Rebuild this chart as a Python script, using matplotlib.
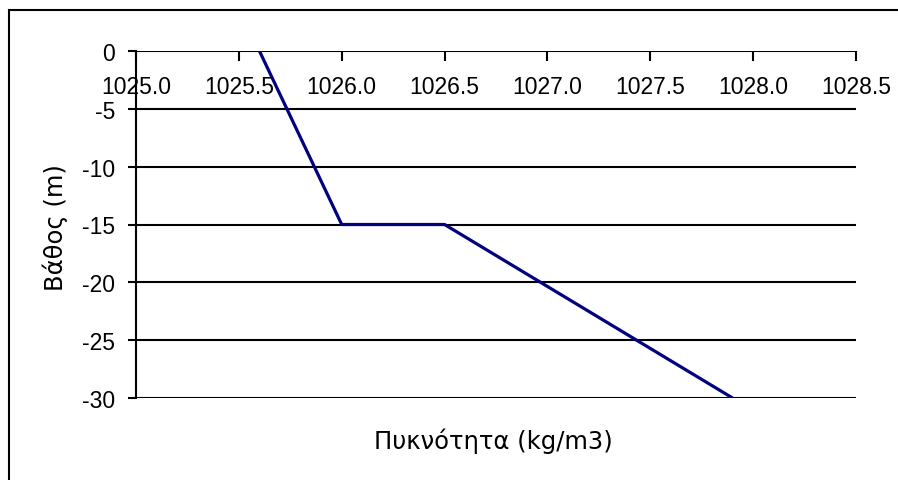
import matplotlib
matplotlib.use("Agg")
import matplotlib.pyplot as plt
from matplotlib.patches import Rectangle

# density profile
density = [1025.6, 1026.0, 1026.5, 1027.9]
depth = [0, -15, -15, -30]
x_ticks = [1025.0, 1025.5, 1026.0, 1026.5, 1027.0, 1027.5, 1028.0, 1028.5]
y_ticks = [0, -5, -10, -15, -20, -25, -30]

plt.rcParams['font.family'] = ['Liberation Sans', 'DejaVu Sans']
FS = 16.5
TITLE_FONT = dict(family=['DejaVu Sans'], fontsize=17.5)

fig = plt.figure(figsize=(8.98, 4.81), dpi=100)
W, H = 898, 481

# outer chart border (right and bottom edges run off the canvas)
fig.patches.append(Rectangle((9 / W, -0.1), 1.0, 1.1 - 11 / H,
                             transform=fig.transFigure, fill=False,
                             edgecolor='black', linewidth=1.5))

ax = fig.add_axes([136 / W, 1 - 399 / H, (856 - 136) / W, (399 - 52) / H])
ax.set_xlim(1025.0, 1028.5)
ax.set_ylim(-30, 0)

for y in y_ticks:
    ax.axhline(y, color='black', linewidth=1.5, zorder=1)

ax.plot(density, depth, color='#000080', linewidth=2.3, zorder=3,
        solid_capstyle='butt')

for s in ['right', 'bottom', 'top']:
    ax.spines[s].set_visible(False)
ax.spines['left'].set_linewidth(1.5)

ax.set_yticks(y_ticks)
ax.set_yticklabels([str(v) for v in y_ticks], fontsize=FS)
ax.tick_params(axis='y', direction='out', length=6, width=1.5, pad=9)

# x axis sits at depth 0, ticks point down, labels below
ax.xaxis.set_ticks_position('top')
ax.set_xticks(x_ticks)
ax.set_xticklabels([])
ax.tick_params(axis='x', direction='in', length=7, width=1.5)
for x in x_ticks:
    ax.text(x, 1 - (88 - 52) / (399 - 52), '%.1f' % x, transform=ax.get_xaxis_transform(),
            ha='center', va='center', fontsize=FS)

fig.text(493 / W, 1 - 441 / H, 'Πυκνότητα (kg/m3)', ha='center', va='center', **TITLE_FONT)
fig.text(55 / W, 1 - 228 / H, 'Βάθος (m)', ha='center', va='center',
         rotation=90, **TITLE_FONT)

fig.savefig('out.png', dpi=100)
